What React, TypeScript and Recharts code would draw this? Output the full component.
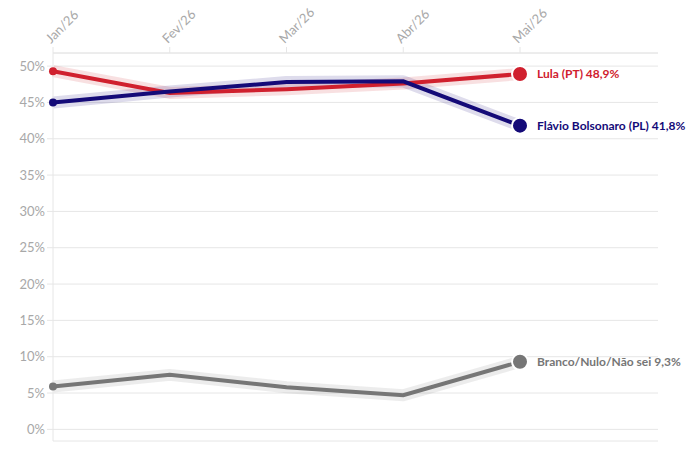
import { LineChart, Line, XAxis, YAxis, CartesianGrid } from 'recharts';

const months = ['Jan/26', 'Fev/26', 'Mar/26', 'Abr/26', 'Mai/26'];
const lula = [49.3, 46.3, 46.8, 47.6, 48.9];
const flavio = [45.0, 46.5, 47.8, 47.9, 41.8];
const branco = [5.9, 7.5, 5.8, 4.7, 9.3];
const yTicks = [0, 5, 10, 15, 20, 25, 30, 35, 40, 45, 50];

const seriesInfo = [
  { key: 'lula', name: 'Lula (PT)', color: '#d0202e', halo: 'rgba(208,32,46,0.14)' },
  { key: 'flavio', name: 'Flávio Bolsonaro (PL)', color: '#140a78', halo: 'rgba(20,10,120,0.14)' },
  { key: 'branco', name: 'Branco/Nulo/Não sei', color: '#767676', halo: 'rgba(118,118,118,0.14)' },
];

const data = months.map((m, i) => ({ month: m, lula: lula[i], flavio: flavio[i], branco: branco[i] }));
const last = months.length - 1;
const FONT = 'Lato, "Noto Sans", sans-serif';

const fmt = (v: number) => `${v.toFixed(1).replace('.', ',')}%`;

function XTick(props: any) {
  const { x, payload } = props;
  return (
    <g transform={`translate(${x - 2},${44})`}>
      <text transform="rotate(-45)" textAnchor="start" fontSize={13} fill="#a8a8a8" fontFamily={FONT}>
        {payload.value}
      </text>
    </g>
  );
}

const makeDot = (color: string) => (props: any) => {
  const { cx, cy, index } = props;
  if (index === 0) return <circle key={`d${index}`} cx={cx} cy={cy} r={4} fill={color} />;
  if (index === last)
    return <circle key={`d${index}`} cx={cx} cy={cy} r={8} fill={color} stroke="#fff" strokeWidth={2} />;
  return <g key={`d${index}`} />;
};

const makeLabel = (color: string, name: string) => (props: any) => {
  const { x, y, index, value } = props;
  if (index !== last) return <g key={`l${index}`} />;
  return (
    <text key={`l${index}`} x={x + 17} y={y} dy={4} fontSize={12} fontWeight="bold" fill={color} fontFamily={FONT}>
      {`${name} ${fmt(value)}`}
    </text>
  );
};

export default function App() {
  return (
    <div style={{ position: 'absolute', left: 0, top: 0, background: '#fff' }}>
      <LineChart width={690} height={452} data={data} margin={{ top: 8, right: 32, left: 8, bottom: 11 }}>
        <CartesianGrid vertical={false} stroke="#e6e6e6" />
        <XAxis
          dataKey="month"
          orientation="top"
          scale="point"
          height={45}
          padding={{ left: 0, right: 138 }}
          axisLine={{ stroke: '#e6e6e6' }}
          tickLine={{ stroke: '#e6e6e6' }}
          tick={<XTick />}
          interval={0}
        />
        <YAxis
          width={45}
          domain={[-1.6, 51.8]}
          ticks={yTicks}
          allowDataOverflow
          tickFormatter={(v) => `${v}%`}
          tick={{ fontSize: 13, fill: '#a8a8a8', fontFamily: FONT }}
          axisLine={{ stroke: '#e6e6e6' }}
          tickLine={{ stroke: '#e6e6e6' }}
        />
        {seriesInfo.map((s) => (
          <Line
            key={`h-${s.key}`}
            dataKey={s.key}
            stroke={s.halo}
            strokeWidth={12}
            dot={false}
            activeDot={false}
            isAnimationActive={false}
            type="linear"
            strokeLinejoin="round"
          />
        ))}
        {seriesInfo.map((s) => (
          <Line
            key={s.key}
            dataKey={s.key}
            stroke={s.color}
            strokeWidth={4}
            dot={makeDot(s.color)}
            activeDot={false}
            label={makeLabel(s.color, s.name)}
            isAnimationActive={false}
            type="linear"
          />
        ))}
      </LineChart>
    </div>
  );
}
